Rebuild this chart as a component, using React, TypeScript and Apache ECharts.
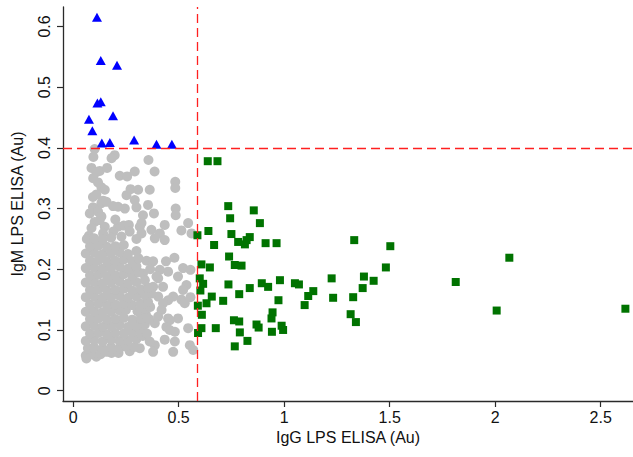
import React, { useEffect, useRef } from "react";
import * as echarts from "echarts";

const xTicks = [0, 0.5, 1, 1.5, 2, 2.5];
const yTicks = [0, 0.1, 0.2, 0.3, 0.4, 0.5, 0.6];
const iggCutoff = 0.589;
const igmCutoff = 0.4;

// low IgG / low IgM (grey circles)
const greyPoints: number[][] = [
  // upper scattered area
  [0.102, 0.398], [0.197, 0.388], [0.182, 0.383], [0.357, 0.38], [0.087, 0.367], [0.11, 0.36], [0.126, 0.362],
  [0.161, 0.367], [0.221, 0.354], [0.256, 0.353], [0.292, 0.361], [0.386, 0.361], [0.118, 0.343], [0.134, 0.335],
  [0.15, 0.331], [0.253, 0.322], [0.272, 0.332], [0.308, 0.331], [0.363, 0.331], [0.484, 0.344], [0.484, 0.334],
  [0.094, 0.319], [0.11, 0.323], [0.142, 0.313], [0.094, 0.302], [0.11, 0.3], [0.134, 0.309], [0.158, 0.311],
  [0.189, 0.304], [0.213, 0.303], [0.245, 0.3], [0.3, 0.302], [0.355, 0.306], [0.383, 0.292], [0.331, 0.289],
  [0.486, 0.3], [0.486, 0.289], [0.079, 0.292], [0.118, 0.295], [0.134, 0.287], [0.102, 0.278], [0.126, 0.281],
  [0.087, 0.268], [0.15, 0.27], [0.213, 0.27], [0.24, 0.272], [0.264, 0.273], [0.316, 0.27], [0.324, 0.276],
  [0.434, 0.273], [0.371, 0.265], [0.411, 0.259], [0.513, 0.264], [0.545, 0.276], [0.561, 0.259], [0.142, 0.259],
  [0.268, 0.262], [0.324, 0.259], [0.387, 0.251], [0.229, 0.254], [0.434, 0.248], [0.292, 0.314],
  [0.096, 0.385], [0.095, 0.35], [0.075, 0.255], [0.19, 0.262], [0.3, 0.25], [0.2, 0.282],
  // right-side scattered
  [0.348, 0.214], [0.379, 0.213], [0.44, 0.213], [0.48, 0.219], [0.521, 0.202], [0.556, 0.199], [0.411, 0.199],
  [0.45, 0.196], [0.403, 0.185], [0.497, 0.188], [0.379, 0.171], [0.426, 0.171], [0.537, 0.174], [0.521, 0.166],
  [0.474, 0.155], [0.45, 0.149], [0.403, 0.155], [0.426, 0.144], [0.513, 0.15], [0.529, 0.144], [0.556, 0.154],
  [0.419, 0.133], [0.403, 0.122], [0.45, 0.119], [0.497, 0.119], [0.458, 0.116], [0.387, 0.111], [0.442, 0.105],
  [0.482, 0.097], [0.545, 0.103], [0.458, 0.1], [0.434, 0.084], [0.387, 0.075], [0.482, 0.081], [0.474, 0.064],
  [0.553, 0.075], [0.569, 0.067], [0.363, 0.081], [0.316, 0.07], [0.379, 0.064], [0.268, 0.065], [0.182, 0.062],
  [0.063, 0.053], [0.11, 0.056], [0.395, 0.188], [0.331, 0.193], [0.276, 0.193],
  // dense core
  [0.06, 0.058], [0.085, 0.06], [0.13, 0.06], [0.16, 0.064], [0.215, 0.062],
  [0.07, 0.07], [0.1, 0.071], [0.14, 0.069], [0.18, 0.072], [0.22, 0.07], [0.25, 0.073], [0.29, 0.072],
  [0.06, 0.082], [0.1, 0.083], [0.14, 0.081], [0.18, 0.084], [0.22, 0.082], [0.26, 0.083], [0.3, 0.085], [0.33, 0.09],
  [0.08, 0.094], [0.12, 0.095], [0.16, 0.093], [0.2, 0.095], [0.24, 0.094], [0.28, 0.096], [0.32, 0.098], [0.35, 0.094],
  [0.06, 0.106], [0.1, 0.107], [0.14, 0.105], [0.18, 0.106], [0.22, 0.108], [0.26, 0.105], [0.3, 0.107], [0.34, 0.109], [0.36, 0.118],
  [0.08, 0.118], [0.12, 0.119], [0.16, 0.117], [0.2, 0.118], [0.24, 0.12], [0.28, 0.117], [0.32, 0.119], [0.345, 0.125],
  [0.06, 0.13], [0.1, 0.131], [0.14, 0.129], [0.18, 0.13], [0.22, 0.132], [0.25, 0.133], [0.305, 0.131], [0.34, 0.135], [0.365, 0.138],
  [0.08, 0.142], [0.12, 0.143], [0.16, 0.141], [0.2, 0.142], [0.24, 0.144], [0.28, 0.141], [0.32, 0.143], [0.355, 0.146],
  [0.06, 0.154], [0.1, 0.155], [0.14, 0.153], [0.18, 0.154], [0.22, 0.156], [0.26, 0.153], [0.3, 0.155], [0.34, 0.157], [0.37, 0.16],
  [0.08, 0.166], [0.12, 0.167], [0.16, 0.165], [0.2, 0.166], [0.24, 0.168], [0.28, 0.165], [0.32, 0.167], [0.355, 0.17],
  [0.06, 0.178], [0.1, 0.179], [0.14, 0.177], [0.18, 0.178], [0.22, 0.18], [0.26, 0.177], [0.3, 0.179], [0.34, 0.182],
  [0.08, 0.19], [0.12, 0.191], [0.16, 0.189], [0.2, 0.19], [0.24, 0.192], [0.28, 0.189], [0.31, 0.195], [0.365, 0.2],
  [0.06, 0.202], [0.1, 0.203], [0.14, 0.201], [0.18, 0.202], [0.22, 0.204], [0.26, 0.201], [0.3, 0.205],
  [0.08, 0.214], [0.12, 0.215], [0.16, 0.213], [0.2, 0.214], [0.24, 0.216], [0.28, 0.213], [0.31, 0.218],
  [0.06, 0.226], [0.1, 0.227], [0.14, 0.225], [0.18, 0.226], [0.22, 0.228], [0.26, 0.225], [0.3, 0.23],
  [0.08, 0.238], [0.12, 0.239], [0.16, 0.237], [0.2, 0.238], [0.24, 0.24],
  [0.065, 0.25], [0.1, 0.251], [0.14, 0.249], [0.18, 0.252],
];

// high IgM (blue triangles)
const bluePoints: number[][] = [
  [0.113, 0.615], [0.131, 0.544], [0.208, 0.536], [0.115, 0.474], [0.131, 0.476], [0.189, 0.453], [0.075, 0.447],
  [0.091, 0.428], [0.136, 0.408], [0.174, 0.409], [0.289, 0.413], [0.395, 0.406], [0.468, 0.406],
];

// high IgG (green squares)
const greenPoints: number[][] = [
  [0.638, 0.378], [0.684, 0.378], [0.735, 0.304], [0.856, 0.297], [0.744, 0.284], [0.885, 0.276], [0.589, 0.256],
  [0.641, 0.263], [0.75, 0.258], [0.668, 0.24], [0.782, 0.245], [0.814, 0.241], [0.837, 0.253], [0.822, 0.248],
  [0.912, 0.243], [0.964, 0.243], [1.332, 0.248], [1.503, 0.238], [0.739, 0.221], [0.766, 0.207], [0.798, 0.206],
  [0.608, 0.208], [0.648, 0.203], [1.482, 0.203], [0.6, 0.185], [0.616, 0.176], [0.736, 0.175], [0.837, 0.169],
  [0.894, 0.177], [0.924, 0.171], [0.98, 0.182], [1.051, 0.177], [1.07, 0.175], [1.225, 0.185], [1.378, 0.188],
  [1.424, 0.181], [1.372, 0.169], [1.138, 0.164], [1.114, 0.156], [1.232, 0.153], [1.327, 0.154], [0.603, 0.165],
  [0.657, 0.155], [0.632, 0.144], [0.591, 0.14], [0.711, 0.148], [0.787, 0.159], [0.973, 0.149], [1.097, 0.141],
  [0.61, 0.125], [0.762, 0.116], [0.787, 0.114], [0.945, 0.129], [0.94, 0.119], [1.315, 0.126], [1.34, 0.113],
  [0.869, 0.109], [0.879, 0.104], [0.676, 0.103], [0.608, 0.103], [0.592, 0.095], [0.79, 0.096], [0.942, 0.097],
  [0.988, 0.107], [0.995, 0.1], [0.826, 0.082], [0.766, 0.073], [2.067, 0.219], [1.813, 0.179], [2.007, 0.132],
  [2.617, 0.135],
];

export default function App() {
  const ref = useRef<HTMLDivElement>(null);
  useEffect(() => {
    const chart = echarts.init(ref.current!, null, { renderer: "svg" });
    const axisColor = "#2a2a2a";
    const font = "Liberation Sans, Arial, Helvetica, sans-serif";
    chart.setOption({
      animation: false,
      backgroundColor: "#ffffff",
      grid: { left: 63, right: 0, top: 7, bottom: 56, containLabel: false },
      xAxis: {
        type: "value",
        min: -0.048,
        max: 2.653,
        axisLine: { onZero: false, lineStyle: { color: axisColor, width: 1.3 } },
        axisTick: { show: true, inside: false, length: 6, customValues: xTicks, lineStyle: { color: axisColor, width: 1.2 } },
        axisLabel: { customValues: xTicks, margin: 8, fontSize: 16, color: "#111", fontFamily: font },
        splitLine: { show: false },
        name: "IgG LPS ELISA (Au)",
        nameLocation: "middle",
        nameGap: 27,
        nameTextStyle: { fontSize: 16, color: "#111", fontFamily: font },
      },
      yAxis: {
        type: "value",
        min: -0.017,
        max: 0.632,
        axisLine: { onZero: false, lineStyle: { color: axisColor, width: 1.3 } },
        axisTick: { show: true, inside: false, length: 6, customValues: yTicks, lineStyle: { color: axisColor, width: 1.2 } },
        axisLabel: { customValues: yTicks, rotate: 90, margin: 11, fontSize: 16, color: "#111", fontFamily: font },
        splitLine: { show: false },
        name: "IgM LPS ELISA (Au)",
        nameLocation: "middle",
        nameGap: 38,
        nameTextStyle: { fontSize: 16, color: "#111", fontFamily: font },
      },
      series: [
        {
          type: "scatter",
          data: [],
          markLine: {
            silent: true,
            symbol: "none",
            label: { show: false },
            lineStyle: { color: "#ff2020", width: 1.3, type: [9, 5], opacity: 1 },
            data: [{ xAxis: iggCutoff }, { yAxis: igmCutoff }],
          },
        },
        {
          type: "scatter",
          data: greyPoints,
          symbol: "circle",
          symbolSize: 10,
          itemStyle: { color: "#bebebe", opacity: 1 },
        },
        {
          type: "scatter",
          data: greenPoints,
          symbol: "rect",
          symbolSize: 8,
          itemStyle: { color: "#007300", opacity: 1 },
        },
        {
          type: "scatter",
          data: bluePoints,
          symbol: "triangle",
          symbolSize: [10, 9],
          itemStyle: { color: "#0000ff", opacity: 1 },
        },
      ],
    });
    return () => chart.dispose();
  }, []);
  return <div ref={ref} style={{ position: "absolute", left: 0, top: 0, width: 633, height: 457 }} />;
}
